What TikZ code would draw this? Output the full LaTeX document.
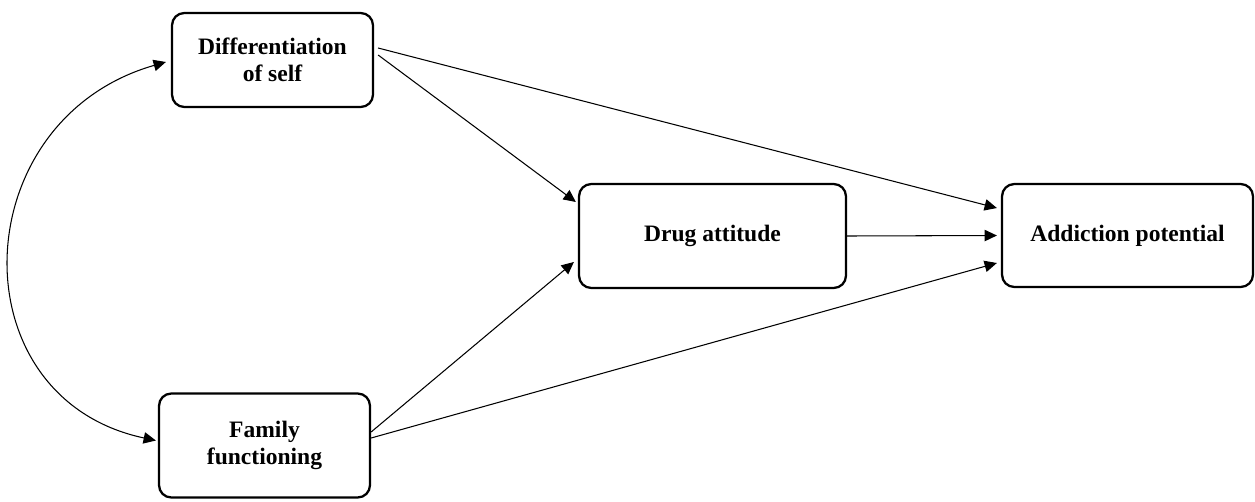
\documentclass[tikz,border=0pt]{standalone}
\usepackage{fontspec}
\setmainfont{Liberation Serif}
\usepackage{tikz}
\usetikzlibrary{arrows.meta, positioning, calc}

\tikzset{
  varbox/.style={draw, line width=1.3pt, rounded corners=7pt, align=center,
                 font=\bfseries\fontsize{13.4}{15.5}\selectfont},
  path/.style={line width=0.6pt, -{Triangle[length=7pt,width=6.5pt]}}
}

\begin{document}
\begin{tikzpicture}[x=0.02cm, y=-0.02cm]
    \useasboundingbox (0,0) rectangle (1255,501);

    % variables
    \node[varbox, minimum width=4.02cm, minimum height=1.88cm] (diff)   at (272.5,60)   {Differentiation\\of self};
    \node[varbox, minimum width=4.22cm, minimum height=2.08cm] (family) at (264.5,445.5) {Family\\functioning};
    \node[varbox, minimum width=5.34cm, minimum height=2.08cm] (drug)   at (712.5,236)  {Drug attitude};
    \node[varbox, minimum width=5.02cm, minimum height=2.06cm] (addict) at (1127.5,235.5) {Addiction potential};

    % correlation between the predictors
    \draw[line width=0.6pt, {Triangle[length=7pt,width=6.5pt]}-{Triangle[length=7pt,width=6.5pt]}]
      ([xshift=-0.04cm, yshift=0.1cm]family.west) .. controls +(168:4.1cm) and +(196:4.2cm) .. ([xshift=-0.1cm, yshift=-0.04cm]diff.west);

    % paths
    \draw[path] ([xshift=0.08cm, yshift=0.1cm]diff.east)   -- ([xshift=-0.04cm, yshift=0.68cm]drug.west);
    \draw[path] ([xshift=0.08cm, yshift=0.24cm]diff.east)  -- ([xshift=-0.08cm, yshift=0.55cm]addict.west);
    \draw[path] ([yshift=0.27cm]family.east) -- ([xshift=-0.08cm, yshift=-0.52cm]drug.west);
    \draw[path] ([yshift=0.15cm]family.east) -- ([xshift=-0.08cm, yshift=-0.55cm]addict.west);
    \draw[path] (drug.east) -- ([xshift=-0.08cm]addict.west);
  \end{tikzpicture}
\end{document}
